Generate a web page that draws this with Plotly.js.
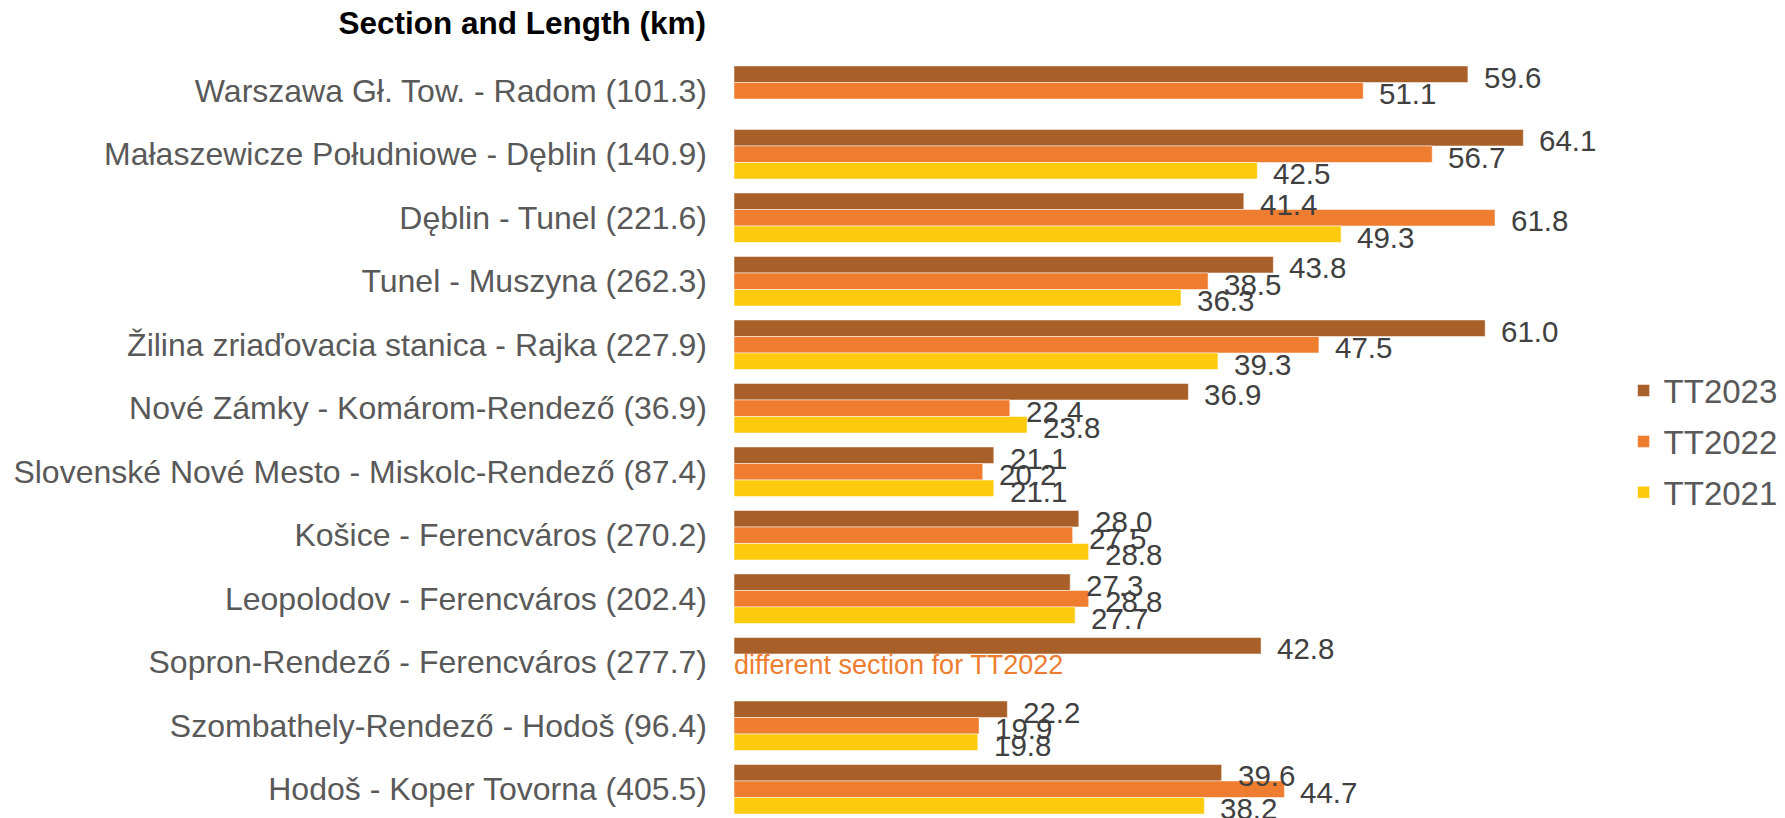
<!DOCTYPE html>
<html>
<head>
<meta charset="utf-8">
<script src="https://cdn.plot.ly/plotly-3.0.1.min.js"></script>
<style>html,body{margin:0;padding:0;background:#fff;}#chart{width:1785px;height:818px;}</style>
</head>
<body>
<div id="chart"></div>
<script>
const categories = [
  "Warszawa Gł. Tow. - Radom (101.3)",
  "Małaszewicze Południowe - Dęblin (140.9)",
  "Dęblin - Tunel (221.6)",
  "Tunel - Muszyna (262.3)",
  "Žilina zriaďovacia stanica - Rajka (227.9)",
  "Nové Zámky - Komárom-Rendező (36.9)",
  "Slovenské Nové Mesto - Miskolc-Rendező (87.4)",
  "Košice - Ferencváros (270.2)",
  "Leopolodov - Ferencváros (202.4)",
  "Sopron-Rendező - Ferencváros (277.7)",
  "Szombathely-Rendező - Hodoš (96.4)",
  "Hodoš - Koper Tovorna (405.5)"
];
const seriesNames = ["TT2023", "TT2022", "TT2021"];
const tt2023 = [59.6, 64.1, 41.4, 43.8, 61.0, 36.9, 21.1, 28.0, 27.3, 42.8, 22.2, 39.6];
const tt2022 = [51.1, 56.7, 61.8, 38.5, 47.5, 22.4, 20.2, 27.5, 28.8, null, 19.9, 44.7];
const tt2021 = [null, 42.5, 49.3, 36.3, 39.3, 23.8, 21.1, 28.8, 27.7, null, 19.8, 38.2];
const noteCategory = "Sopron-Rendező - Ferencváros (277.7)";
const noteText = "different section for TT2022";
const titleText = "Section and Length (km)";

const colors = ["#A95F28", "#EE7D2F", "#FDCA0E"];
const series = [tt2023, tt2022, tt2021];
const barPx = 16.5;
const shifts = [barPx, 0, -barPx];

const traces = series.map((vals, i) => ({
  type: "bar",
  orientation: "h",
  name: seriesNames[i],
  x: vals,
  y: categories,
  legendgroup: seriesNames[i],
  marker: {color: colors[i], line: {color: "rgba(255,255,255,0.5)", width: 1}},
  hoverinfo: "x+y"
}));

const annotations = [];
series.forEach((vals, i) => {
  vals.forEach((v, j) => {
    if (v === null) return;
    annotations.push({
      x: v, y: categories[j], xref: "x", yref: "y",
      text: v.toFixed(1), showarrow: false,
      xanchor: "left", yanchor: "middle",
      xshift: 14, yshift: shifts[i] - 3,
      font: {family: "Liberation Sans, Arial, sans-serif", size: 29.5, color: "#404040"}
    });
  });
});
annotations.push({
  x: 0, y: noteCategory, xref: "x", yref: "y",
  text: noteText, showarrow: false,
  xanchor: "left", yanchor: "middle", xshift: -2, yshift: -3,
  font: {family: "Liberation Sans, Arial, sans-serif", size: 27, color: "#EE7D2F"}
});

const layout = {
  width: 1785, height: 818,
  margin: {l: 734, r: 189, t: 59, b: 0},
  paper_bgcolor: "#ffffff", plot_bgcolor: "#ffffff",
  barmode: "group", bargap: 0.22, bargroupgap: 0,
  title: {
    text: "<b>" + titleText + "</b>",
    xref: "container", yref: "container",
    x: 706/1785, xanchor: "right",
    y: 1 - 23/818, yanchor: "middle",
    font: {family: "Liberation Sans, Arial, sans-serif", size: 31.5, color: "#000000"}
  },
  xaxis: {range: [0, 70], visible: false, showgrid: false, zeroline: false, fixedrange: true},
  yaxis: {
    type: "category",
    range: [11.453, -0.5],
    showgrid: false, zeroline: false, showline: false, ticks: "",
    ticklabelstandoff: 26,
    tickfont: {family: "Liberation Sans, Arial, sans-serif", size: 32, color: "#595959"}
  },
  showlegend: true,
  legend: {
    x: 1.032, xanchor: "left", y: 0.496, yanchor: "middle",
    traceorder: "grouped", tracegroupgap: 5,
    font: {family: "Liberation Sans, Arial, sans-serif", size: 33, color: "#595959"},
    bgcolor: "rgba(0,0,0,0)"
  },
  annotations: annotations,
  font: {family: "Liberation Sans, Arial, sans-serif"}
};

Plotly.newPlot("chart", traces, layout, {displayModeBar: false, staticPlot: true});
</script>
</body>
</html>
